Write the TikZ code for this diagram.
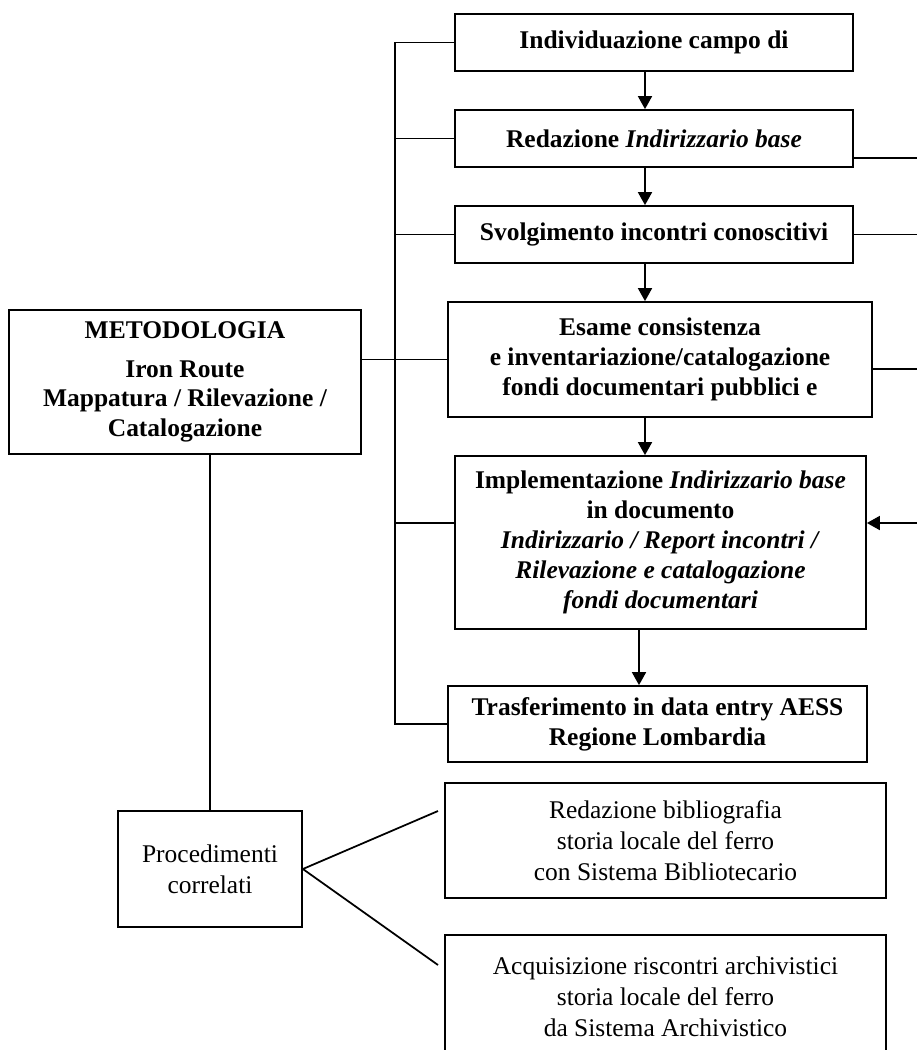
\documentclass[tikz,border=0pt]{standalone}
\usepackage{fontspec}
\setmainfont{Liberation Serif}
\usetikzlibrary{arrows.meta}

\begin{document}
\begin{tikzpicture}[line width=1pt,
  stepbox/.style={draw, align=center, inner sep=0pt, font=\fontsize{14.5}{17}\selectfont\bfseries},
  sidebox/.style={draw, align=center, inner sep=0pt, font=\fontsize{14.5}{17.5}\selectfont},
  arr/.style={-{Triangle[length=0.26cm,width=0.28cm]}}]
\useasboundingbox (0,0) rectangle (18.34,-21);
% main steps
\node[stepbox, minimum width=7.96cm, minimum height=1.14cm] (campo) at (13.08,-0.85) {Individuazione campo di};
\node[stepbox, minimum width=7.96cm, minimum height=1.14cm] (redaz) at (13.08,-2.77) {Redazione \textit{Indirizzario base}};
\node[stepbox, minimum width=7.96cm, minimum height=1.14cm] (svolg) at (13.08,-4.69) {Svolgimento incontri conoscitivi};
\node[stepbox, minimum width=8.48cm, minimum height=2.3cm] (esame) at (13.2,-7.19) {Esame consistenza\\ e inventariazione/catalogazione\\ fondi documentari pubblici e};
\node[stepbox, minimum width=8.22cm, minimum height=3.46cm] (impl) at (13.21,-10.85) {Implementazione \textit{Indirizzario base}\\ in documento\\ \textit{Indirizzario / Report incontri /}\\ \textit{Rilevazione e catalogazione}\\ \textit{fondi documentari}};
\node[stepbox, minimum width=8.38cm, minimum height=1.52cm] (trasf) at (13.15,-14.48) {Trasferimento in data entry AESS\\ Regione Lombardia};
% method
\node[stepbox, minimum width=7.04cm, minimum height=2.88cm] (met) at (3.7,-7.64) {METODOLOGIA\\[5pt] Iron Route\\ Mappatura / Rilevazione /\\ Catalogazione};
% related procedures
\node[sidebox, minimum width=3.68cm, minimum height=2.32cm] (proc) at (4.2,-17.38) {Procedimenti\\ correlati};
\node[sidebox, minimum width=8.82cm, minimum height=2.3cm] (bib) at (13.31,-16.81) {Redazione bibliografia\\ storia locale del ferro\\ con Sistema Bibliotecario};
\node[sidebox, minimum width=8.82cm, minimum height=2.48cm] (acq) at (13.31,-19.94) {Acquisizione riscontri archivistici\\ storia locale del ferro\\ da Sistema Archivistico};
% helper coordinates
\coordinate (axis) at (12.9,0);
\coordinate (trunk) at (7.9,0);
\coordinate (bus) at (18.7,0);
\coordinate (implin) at ([yshift=0.39cm]impl.east);
\coordinate (impltick) at ([yshift=0.39cm]impl.west);
\coordinate (bibend) at (8.76,-16.22);
\coordinate (acqend) at (8.76,-19.3);
% flow arrows
\draw[arr] (campo.south -| axis) -- (redaz.north -| axis);
\draw[arr] (redaz.south -| axis) -- (svolg.north -| axis);
\draw[arr] (svolg.south -| axis) -- (esame.north -| axis);
\draw[arr] (esame.south -| axis) -- (impl.north -| axis);
\draw[arr] ([xshift=-0.12cm]impl.south -| axis) -- ([xshift=-0.12cm]trasf.north -| axis);
% left trunk
\draw (campo.west) -| (trunk |- trasf.west) -- (trasf.west);
\draw (redaz.west) -- (redaz.west -| trunk);
\draw (svolg.west) -- (svolg.west -| trunk);
\draw (impltick) -- (impltick -| trunk);
\draw (esame.west) -- (esame.west -| met.east);
% right feedback
\draw[arr] ([yshift=-0.39cm]redaz.east) -| (bus |- implin) -- (implin);
\draw (svolg.east) -- (svolg.east -| bus);
\draw ([yshift=-0.19cm]esame.east) -- ([yshift=-0.19cm]esame.east -| bus);
% lower branch
\draw (proc.north) -- (proc.north |- met.south);
\draw (bibend) -- (proc.east) -- (acqend);
\end{tikzpicture}
\end{document}
